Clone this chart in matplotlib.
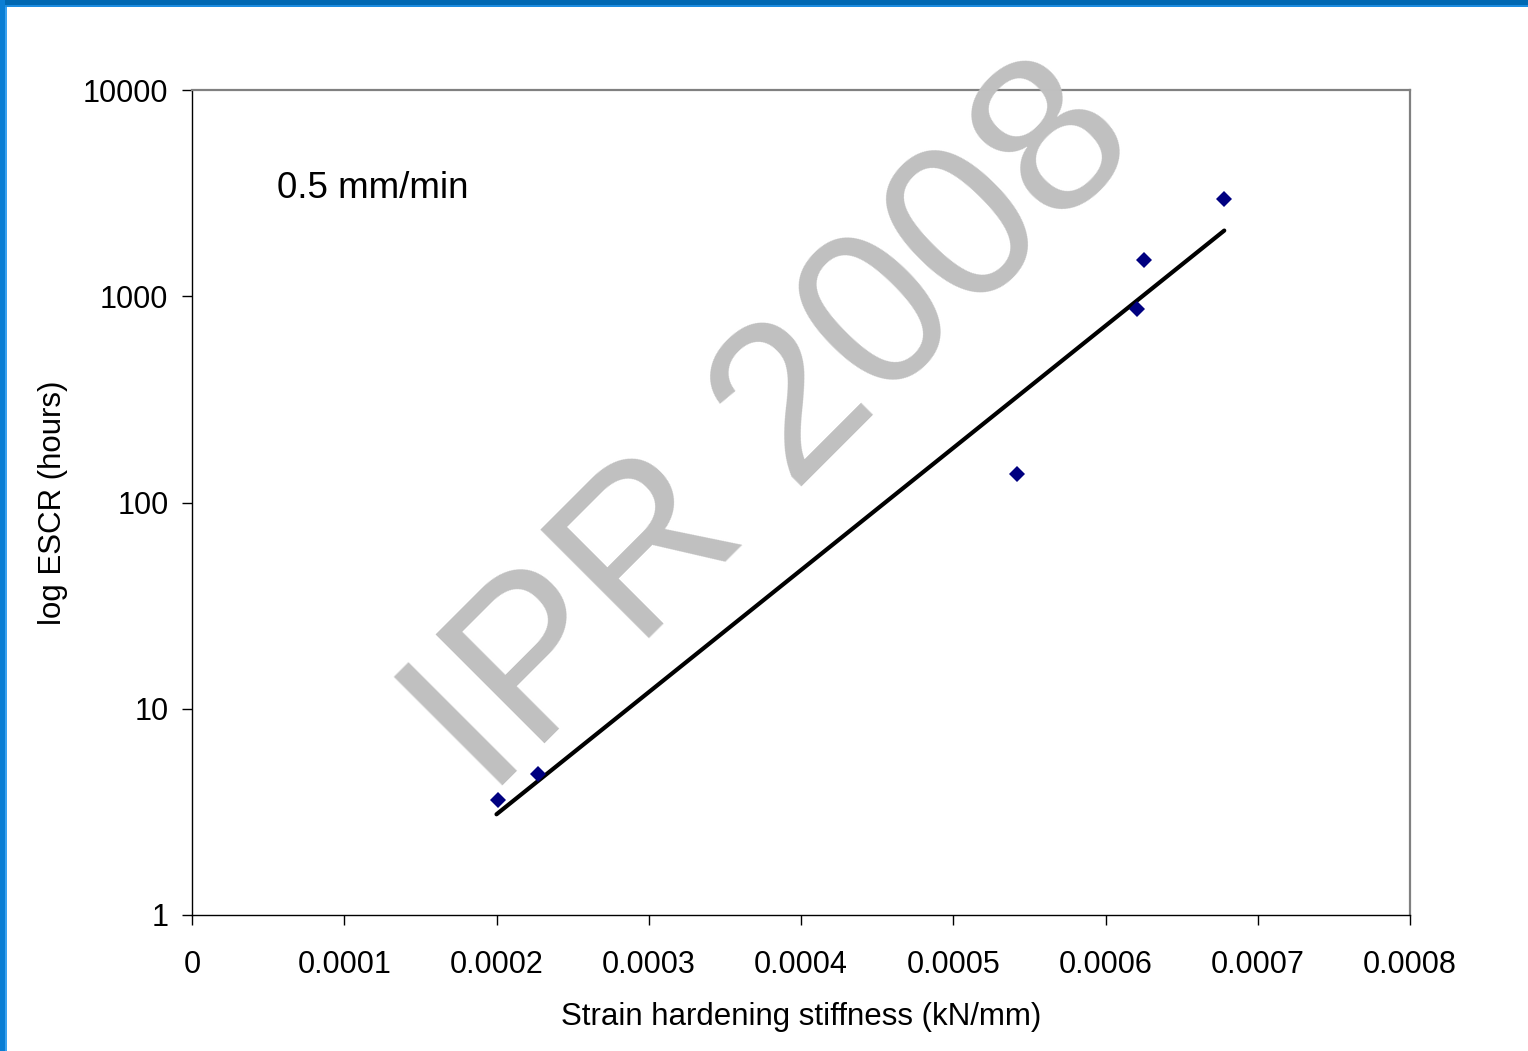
import numpy as np
import matplotlib
matplotlib.use("Agg")
import matplotlib.pyplot as plt
from matplotlib.patches import Rectangle
from matplotlib.ticker import NullLocator

# Data
stiffness = [0.000201, 0.000227, 0.000542, 0.000621, 0.000625, 0.000678]
escr_hours = [3.6, 4.8, 137, 867, 1500, 2960]

x_ticks = [0, 0.0001, 0.0002, 0.0003, 0.0004, 0.0005, 0.0006, 0.0007, 0.0008]
x_tick_labels = ["0", "0.0001", "0.0002", "0.0003", "0.0004", "0.0005",
                 "0.0006", "0.0007", "0.0008"]
y_ticks = [1, 10, 100, 1000, 10000]
y_tick_labels = ["1", "10", "100", "1000", "10000"]

plt.rcParams['font.family'] = ['Liberation Sans', 'DejaVu Sans']

fig = plt.figure(figsize=(15.28, 10.51), dpi=100)
fig.patch.set_facecolor("white")

# slide frame (blue bands on top and left)
fig.patches.append(Rectangle((0, 1 - 5/1051), 1, 5/1051, transform=fig.transFigure,
                             facecolor="#0068B2", edgecolor="none", zorder=0))
fig.patches.append(Rectangle((0, 1 - 7/1051), 1, 2/1051, transform=fig.transFigure,
                             facecolor="#1C8CE0", edgecolor="none", zorder=0))
fig.patches.append(Rectangle((0, 0), 5/1528, 1, transform=fig.transFigure,
                             facecolor="#0A7ED4", edgecolor="none", zorder=0))
fig.patches.append(Rectangle((5/1528, 0), 2/1528, 1 - 7/1051, transform=fig.transFigure,
                             facecolor="#3AA2F0", edgecolor="none", zorder=0))

ax = fig.add_axes([192/1528, 1 - 915/1051, (1410 - 192)/1528, (915 - 90)/1051])
ax.set_yscale("log")
ax.set_xlim(0, 0.0008)
ax.set_ylim(1, 10000)

# exponential trend line (fit of log10(y) on x)
slope, intercept = np.polyfit(stiffness, np.log10(escr_hours), 1)
x_fit = np.array([min(stiffness) - 0.000001, max(stiffness)])
ax.plot(x_fit, 10 ** (slope * x_fit + intercept), color="black", lw=3,
        solid_capstyle="round", zorder=3)

ax.plot(stiffness, escr_hours, linestyle="none", marker="D", markersize=8.5,
        color="#000080", markeredgewidth=0, zorder=4)

ax.set_xticks(x_ticks)
ax.set_xticklabels(x_tick_labels)
ax.set_yticks(y_ticks)
ax.set_yticklabels(y_tick_labels)
ax.yaxis.set_minor_locator(NullLocator())
ax.tick_params(axis="x", direction="out", length=7, width=1, color="black",
               labelsize=22, pad=18)
ax.tick_params(axis="y", direction="out", length=7, width=1, color="black",
               labelsize=22, pad=10)

for side in ["top", "right"]:
    ax.spines[side].set_color("#808080")
    ax.spines[side].set_linewidth(1.6)
for side in ["left", "bottom"]:
    ax.spines[side].set_color("black")
    ax.spines[side].set_linewidth(1.0)

ax.set_xlabel("Strain hardening stiffness (kN/mm)", fontsize=22.5, labelpad=16)
ax.set_ylabel("log ESCR (hours)", fontsize=22.5, labelpad=11)

ax.text(277/1528, 1 - 198/1051, "0.5 mm/min", transform=fig.transFigure,
        fontsize=26.5, ha="left", va="baseline")

# watermark
fig.text(816/1528, 1 - 472/1051, "IPR 2008", fontsize=160, color="#C0C0C0",
         rotation=45, rotation_mode="anchor", ha="center", va="baseline",
         zorder=10)

fig.savefig("out.png", dpi=100)
